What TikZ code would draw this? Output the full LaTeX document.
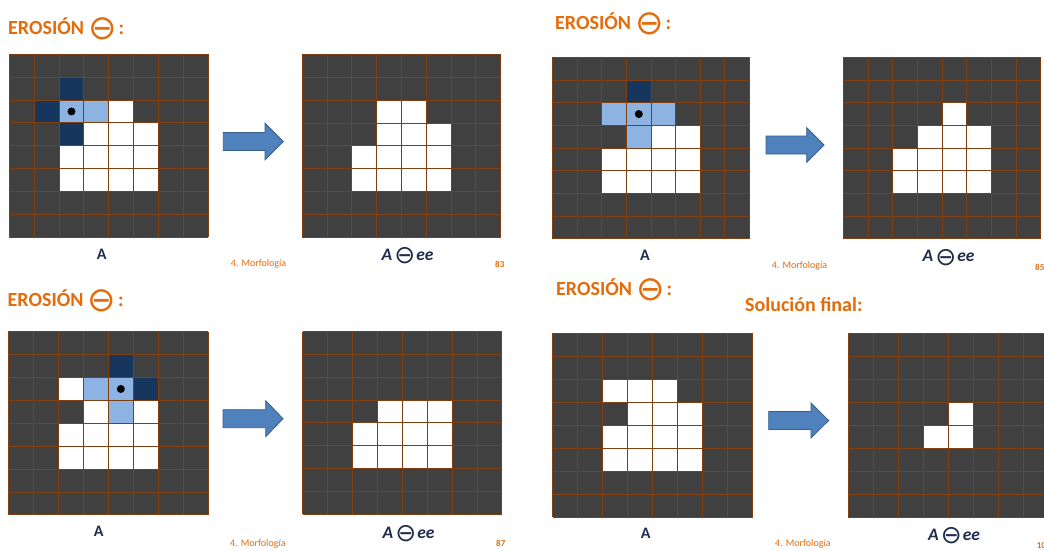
\documentclass[tikz,border=0pt]{standalone}
\usepackage{fontspec}
\setmainfont{Carlito}
\newfontfamily\symf{DejaVu Sans}

\definecolor{bgdark}{HTML}{404040}
\definecolor{gridbrown}{HTML}{7F3F10}
\definecolor{miss}{HTML}{17365D}
\definecolor{hit}{HTML}{8DB3E2}
\definecolor{headorange}{HTML}{E46C0A}
\definecolor{labelnavy}{HTML}{1F2D4D}
\definecolor{arrowfill}{HTML}{4F81BD}
\definecolor{arrowedge}{HTML}{385D8A}

\tikzset{
  gridline/.style={draw=gridbrown, line width=1pt},
  heading/.style={text=headorange, font=\bfseries\fontsize{20}{24}\selectfont, inner sep=0pt, anchor=base west},
  setname/.style={text=labelnavy, font=\bfseries\fontsize{16}{19}\selectfont, inner sep=0pt, anchor=base},
  result/.style={text=labelnavy, font=\bfseries\itshape\fontsize{17.5}{20}\selectfont, inner sep=0pt, anchor=base west},
  footer/.style={text=headorange, font=\fontsize{10}{12}\selectfont, inner sep=0pt, anchor=base west},
  pagenum/.style={text=headorange, font=\bfseries\fontsize{9}{11}\selectfont, inner sep=0pt, anchor=base west},
  blockarrow/.style={fill=arrowfill, draw=arrowedge, line width=0.8pt, line join=miter},
  probe/.style={fill=black},
}

% erosion operator symbol at a given size, shifted vertically by a given amount
\newcommand\erosym[2]{\raisebox{#2}{\symf\mdseries\upshape\fontsize{#1}{#1}\selectfont ⊖}}
\newcommand\headtext{EROSIÓN\hspace{4pt}\erosym{34}{-5pt}\hspace{2pt}:}
\newcommand\resulttext{A\hspace{2pt}\erosym{25}{-3.5pt}\hspace{1pt}ee}

% 8x8 binary image: origin, cell width, cell height, coloured cells, extras
\newcommand\pixelgrid[6]{%
  \begin{scope}[shift={(#1,#2)},x=#3pt,y=-#4pt]
    \fill[bgdark] (0,0) rectangle (8,8);
    \foreach \c/\r/\k in {#5} \fill[\k] (\c,\r) rectangle ++(1,1);
    \foreach \i in {0,...,8} {
      \draw[gridline] (\i,0) -- (\i,8);
      \draw[gridline] (0,\i) -- (8,\i);
    }
    #6
  \end{scope}}

% block arrow: start x, head base x, tip x, centre y, half shaft, half head
\newcommand\blockarrowat[6]{%
  \draw[blockarrow] (#1,#4-#5) -- (#2,#4-#5) -- (#2,#4-#6) -- (#3,#4)
    -- (#2,#4+#6) -- (#2,#4+#5) -- (#1,#4+#5) -- cycle;}

\begin{document}
\begin{tikzpicture}[x=1pt,y=-1pt]
\useasboundingbox (0,0) rectangle (1044,550);
\fill[white] (0,0) rectangle (1044,550);

% ---------- step 1 ----------
\node[heading] (h1) at (8,34.3) {\headtext};
\pixelgrid{9.3}{54.3}{24.875}{22.875}{2/1/miss,1/2/miss,2/2/hit,3/2/hit,4/2/white,
  2/3/miss,3/3/white,4/3/white,5/3/white,
  2/4/white,3/4/white,4/4/white,5/4/white,2/5/white,3/5/white,4/5/white,5/5/white}
  {\fill[probe] (2.5,2.5) circle[radius=4pt];}
\blockarrowat{223.3}{265}{283.3}{141.5}{9}{18.3}
\pixelgrid{302.3}{54.7}{24.8}{22.8}{3/2/white,4/2/white,3/3/white,4/3/white,5/3/white,
  2/4/white,3/4/white,4/4/white,5/4/white,2/5/white,3/5/white,4/5/white,5/5/white}{}
\node[setname] (a1) at (101.8,259) {A};
\node[footer] (f1) at (230.7,266.7) {4. Morfología};
\node[result] (r1) at (381.5,260) {\resulttext};
\node[pagenum] (p1) at (495,267) {83};

% ---------- step 2 ----------
\node[heading] (h2) at (555,29.3) {\headtext};
\pixelgrid{552.7}{57.3}{24.6}{22.7}{3/1/miss,2/2/hit,3/2/hit,4/2/hit,3/3/hit,4/3/white,5/3/white,
  2/4/white,3/4/white,4/4/white,5/4/white,2/5/white,3/5/white,4/5/white,5/5/white}
  {\fill[probe] (3.5,2.5) circle[radius=4pt];}
\blockarrowat{766}{806.7}{824}{145}{9}{17.3}
\pixelgrid{843.3}{57.3}{24.7}{22.7}{4/2/white,3/3/white,4/3/white,5/3/white,
  2/4/white,3/4/white,4/4/white,5/4/white,2/5/white,3/5/white,4/5/white,5/5/white}{}
\node[setname] (a2) at (645,260) {A};
\node[footer] (f2) at (771.7,268) {4. Morfología};
\node[result] (r2) at (922.5,261.7) {\resulttext};
\node[pagenum] (p2) at (1035,270) {85};

% ---------- step 3 ----------
\node[heading] (h3) at (7.5,306.7) {\headtext};
\pixelgrid{8.3}{331.7}{25}{22.9}{4/1/miss,2/2/white,3/2/hit,4/2/hit,5/2/miss,3/3/white,4/3/hit,5/3/white,
  2/4/white,3/4/white,4/4/white,5/4/white,2/5/white,3/5/white,4/5/white,5/5/white}
  {\fill[probe] (4.5,2.5) circle[radius=4pt];}
\blockarrowat{223}{265.7}{283}{418.7}{9}{18}
\pixelgrid{302.7}{331.7}{24.9}{22.8}{3/3/white,4/3/white,5/3/white,
  2/4/white,3/4/white,4/4/white,5/4/white,2/5/white,3/5/white,4/5/white,5/5/white}{}
\node[setname] (a3) at (98.7,536.7) {A};
\node[footer] (f3) at (230,546.7) {4. Morfología};
\node[result] (r3) at (382.5,538.3) {\resulttext};
\node[pagenum] (p3) at (496,546.7) {87};

% ---------- final result ----------
\node[heading] (h4) at (556,295) {\headtext};
\node[heading] (h5) at (745,311.7) {Solución final:};
\pixelgrid{552.7}{333.3}{25}{23}{2/2/white,3/2/white,4/2/white,3/3/white,4/3/white,5/3/white,
  2/4/white,3/4/white,4/4/white,5/4/white,2/5/white,3/5/white,4/5/white,5/5/white}{}
\blockarrowat{768.7}{811}{828.7}{420.5}{9}{17.5}
\pixelgrid{848.3}{333.3}{25}{23}{4/3/white,3/4/white,4/4/white}{}
\node[setname] (a4) at (645.8,538.3) {A};
\node[footer] (f4) at (775,546.7) {4. Morfología};
\node[result] (r4) at (928,540) {\resulttext};
\node[pagenum] (p4) at (1036.7,548) {10};
\end{tikzpicture}
\end{document}
